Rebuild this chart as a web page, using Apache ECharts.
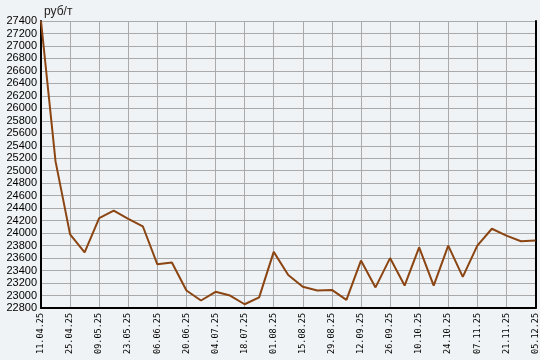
<!DOCTYPE html>
<html>
<head>
<meta charset="utf-8">
<script src="https://cdn.jsdelivr.net/npm/echarts@6/dist/echarts.min.js"></script>
<style>
html,body{margin:0;padding:0;background:#f0f3f5;}
#chart{width:540px;height:360px;}
</style>
</head>
<body>
<div id="chart"></div>
<script>
var dates = ["11.04.25","18.04.25","25.04.25","02.05.25","09.05.25","16.05.25","23.05.25","30.05.25","06.06.25","13.06.25","20.06.25","27.06.25","04.07.25","11.07.25","18.07.25","25.07.25","01.08.25","08.08.25","15.08.25","22.08.25","29.08.25","05.09.25","12.09.25","19.09.25","26.09.25","03.10.25","10.10.25","17.10.25","24.10.25","31.10.25","07.11.25","14.11.25","21.11.25","28.11.25","05.12.25"];
var prices = [27400,25150,23980,23690,24240,24360,24230,24110,23500,23530,23080,22920,23060,23000,22860,22970,23700,23330,23140,23080,23090,22930,23560,23130,23600,23160,23770,23160,23800,23300,23800,24070,23960,23870,23880];
var unitLabel = "руб/т";
var yMin = 22800, yMax = 27400, yStep = 200;

var chart = echarts.init(document.getElementById('chart'), null, {renderer:'canvas'});
chart.setOption({
  animation: false,
  backgroundColor: '#f0f3f5',
  title: {
    text: unitLabel, left: 39, top: 1,
    textStyle: {fontFamily: 'Liberation Sans, Arial', fontSize: 12, fontWeight: 'normal', color: '#222'}
  },
  grid: {left: 41, right: 4, top: 21, bottom: 52, containLabel: false},
  xAxis: {
    type: 'category',
    data: dates,
    boundaryGap: false,
    axisLine: {lineStyle: {color: '#000', width: 2}},
    axisTick: {show: false},
    axisLabel: {interval: 1, rotate: 90, margin: 5, fontFamily: 'DejaVu Sans Mono', fontSize: 8.5, color: '#000'},
    splitLine: {show: true, interval: 1, lineStyle: {color: '#aaaaaa', width: 1}}
  },
  yAxis: [{
    type: 'value',
    min: yMin, max: yMax, interval: yStep,
    axisLine: {show: true, lineStyle: {color: '#000', width: 2}},
    axisTick: {show: false},
    axisLabel: {margin: 4, fontFamily: 'Liberation Sans, Arial', fontSize: 11, color: '#000',
      formatter: function (v) { return String(v); }},
    splitLine: {show: true, lineStyle: {color: '#aaaaaa', width: 1}}
  }, {
    type: 'value', position: 'right',
    min: yMin, max: yMax, interval: yStep,
    axisLine: {show: true, lineStyle: {color: '#000', width: 2}},
    axisTick: {show: false}, axisLabel: {show: false}, splitLine: {show: false}
  }],
  series: [{
    type: 'line',
    data: prices,
    symbol: 'none',
    lineStyle: {color: '#8b4513', width: 2},
    itemStyle: {color: '#8b4513'}
  }]
});
</script>
</body>
</html>
